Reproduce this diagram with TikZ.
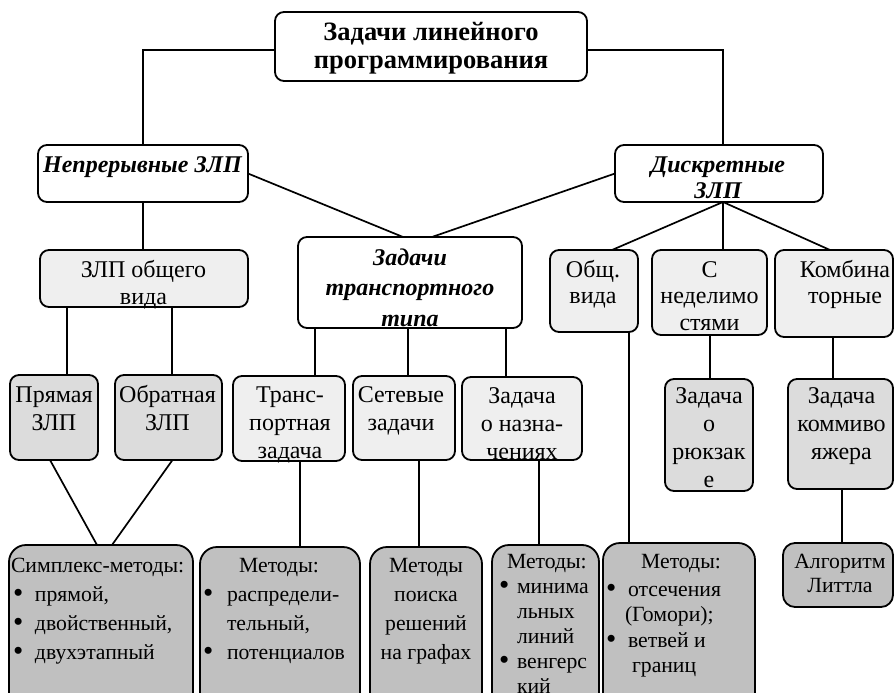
\documentclass[tikz,border=0pt]{standalone}
\usepackage{fontspec}
\setmainfont{Liberation Serif}
\definecolor{fa}{HTML}{EFEFEF}
\definecolor{fb}{HTML}{DCDCDC}
\definecolor{fc}{HTML}{C0C0C0}
\newcommand\TBc[1]{\begin{tabular}[t]{@{}c@{}}#1\end{tabular}}
\newcommand\TBl[1]{\begin{tabular}[t]{@{}l@{}}#1\end{tabular}}
\newcommand\bul[1]{\makebox[#1][l]{\raisebox{-1.2pt}{\scalebox{1.35}{•}}}}
\begin{document}
\begin{tikzpicture}[x=1pt,y=-1pt,
 box/.style={draw=black,line width=1.8pt,rounded corners=9pt,inner sep=0pt,outer sep=0pt,anchor=north west},
 bigbox/.style={box,rounded corners=17pt,fill=fc},
 lnk/.style={line width=1.7pt},
 lbl/.style={inner sep=0pt,outer sep=0pt,anchor=base},
 lbll/.style={inner sep=0pt,outer sep=0pt,anchor=base west},
 fm/.style={font=\fontsize{24}{28}\selectfont},
 fm265/.style={font=\fontsize{24}{26.5}\selectfont},
 fb29/.style={font=\fontsize{21.7}{29}\selectfont},
 fb25/.style={font=\fontsize{21.7}{25}\selectfont},
 fb24/.style={font=\fontsize{21.7}{24}\selectfont}]
\clip (0,0) rectangle (895,693);
\fill[white] (0,0) rectangle (895,693);
% boxes
\node[box,fill=white,minimum width=312pt,minimum height=69pt] (root) at (275,12) {};
\node[box,fill=white,minimum width=210pt,minimum height=57pt] (nepr) at (38,145) {};
\node[box,fill=white,minimum width=208pt,minimum height=57pt] (disc) at (615,145) {};
\node[box,fill=white,minimum width=224pt,minimum height=91pt] (transp) at (298,237) {};
\node[box,fill=fa,minimum width=208pt,minimum height=57pt] (zlpgen) at (40,250) {};
\node[box,fill=fa,minimum width=88pt,minimum height=82pt] (obsh) at (550,250) {};
\node[box,fill=fa,minimum width=115pt,minimum height=85pt] (nedel) at (652,250) {};
\node[box,fill=fa,minimum width=118pt,minimum height=87pt] (komb) at (775,250) {};
\node[box,fill=fb,minimum width=88pt,minimum height=85pt] (pryam) at (10,375) {};
\node[box,fill=fb,minimum width=107pt,minimum height=85pt] (obr) at (115,375) {};
\node[box,fill=fa,minimum width=112pt,minimum height=85pt] (trz) at (233,376) {};
\node[box,fill=fa,minimum width=102pt,minimum height=84pt] (set) at (353,376) {};
\node[box,fill=fa,minimum width=120pt,minimum height=83pt] (nazn) at (462,377) {};
\node[box,fill=fb,minimum width=88pt,minimum height=112pt] (ryuk) at (665,379) {};
\node[box,fill=fb,minimum width=105pt,minimum height=110pt] (komm) at (788,379) {};
\node[bigbox,minimum width=184pt,minimum height=175pt] (simp) at (9,545) {};
\node[bigbox,minimum width=160pt,minimum height=173pt] (mtr) at (200,547) {};
\node[bigbox,minimum width=112pt,minimum height=173pt] (graf) at (370,547) {};
\node[bigbox,minimum width=107pt,minimum height=175pt] (mnazn) at (492,545) {};
\node[bigbox,minimum width=152pt,minimum height=177pt] (motc) at (603,543) {};
\node[box,fill=fc,rounded corners=12pt,minimum width=110pt,minimum height=64pt] (litl) at (783,543) {};
% connectors
\draw[lnk] ([yshift=-3.5pt]root.west) -| (nepr.north);
\draw[lnk] ([yshift=-3.5pt]root.east) -| ([xshift=4pt]disc.north);
\draw[lnk] (nepr.east) -- ([xshift=-7pt]transp.north);
\draw[lnk] (disc.west) -- ([xshift=22pt]transp.north);
\draw[lnk] (nepr.south) -- (zlpgen.north -| nepr.south);
\draw[lnk] (zlpgen.south -| 67,0) -- (pryam.north -| 67,0);
\draw[lnk] (zlpgen.south -| 172,0) -- (obr.north -| 172,0);
\draw[lnk] ([xshift=-4pt]pryam.south) -- ([xshift=-4pt]simp.north);
\draw[lnk] ([xshift=4pt]obr.south) -- ([xshift=11pt]simp.north);
\draw[lnk] (transp.south -| 315,0) -- (trz.north -| 315,0);
\draw[lnk] (transp.south -| 408,0) -- (set.north -| 408,0);
\draw[lnk] (transp.south -| 506,0) -- (nazn.north -| 506,0);
\draw[lnk] ([xshift=4pt]disc.south) -- ([xshift=18pt]obsh.north);
\draw[lnk] ([xshift=4pt]disc.south) -- (nedel.north -| 723,0);
\draw[lnk] ([xshift=4pt]disc.south) -- ([xshift=-4pt]komb.north);
\draw[lnk] (obsh.south -| 629,0) -- (motc.north -| 629,0);
\draw[lnk] (nedel.south -| 710,0) -- (ryuk.north -| 710,0);
\draw[lnk] (komb.south -| 833,0) -- (komm.north -| 833,0);
\draw[lnk] (trz.south -| 300,0) -- (mtr.north -| 300,0);
\draw[lnk] (set.south -| 419,0) -- (graf.north -| 419,0);
\draw[lnk] (nazn.south -| 539,0) -- (mnazn.north -| 539,0);
\draw[lnk] (komm.south -| 842,0) -- (litl.north -| 842,0);
% texts
\node[lbl,font=\fontsize{26.5}{28}\selectfont\bfseries] (t0) at (431,41) {\TBc{Задачи линейного\\программирования}};
\node[lbl,font=\fontsize{24}{28}\selectfont\bfseries\itshape] (t1) at (142.5,172) {Непрерывные ЗЛП};
\node[lbl,font=\fontsize{24}{26.5}\selectfont\bfseries\itshape] (t2) at (718,172) {\TBc{Дискретные\\ЗЛП}};
\node[lbl,font=\fontsize{24}{30.5}\selectfont\bfseries\itshape] (t3) at (410,265) {\TBc{Задачи\\транспортного\\типа}};
\node[lbl,font=\fontsize{24}{27}\selectfont] (t4) at (143.5,277) {\TBc{ЗЛП общего\\вида}};
\node[lbl,fm265] (t5) at (593,277) {\TBc{Общ.\\вида}};
\node[lbl,fm265] (t6) at (709.5,277) {\TBc{С\\неделимо\\стями}};
\node[lbl,fm265] (t7) at (845,277) {\TBc{Комбина\\торные}};
\node[lbl,fm] (t8) at (54,402) {\TBc{Прямая\\ЗЛП}};
\node[lbl,fm] (t9) at (167.5,402) {\TBc{Обратная\\ЗЛП}};
\node[lbl,fm] (t10) at (290,402) {\TBc{Транс-\\портная\\задача}};
\node[lbl,fm] (t11) at (401,402) {\TBc{Сетевые\\задачи}};
\node[lbl,fm] (t12) at (522,403) {\TBc{Задача\\о назна-\\чениях}};
\node[lbl,fm] (t13) at (709,403) {\TBc{Задача\\о\\рюкзак\\е}};
\node[lbl,fm] (t14) at (841.5,403) {\TBc{Задача\\коммиво\\яжера}};
\node[lbll,fb29] (t15) at (11,572) {\TBl{Симплекс-методы:\\\hspace{2pt}\bul{22pt}прямой,\\\hspace{2pt}\bul{22pt}двойственный,\\\hspace{2pt}\bul{22pt}двухэтапный}};
\node[lbl,fb29] (t16) at (279,572) {Методы:};
\node[lbll,fb29] (t17) at (203,601) {\TBl{\bul{24pt}распредели-\\\hspace{24pt}тельный,\\\bul{24pt}потенциалов}};
\node[lbl,fb29] (t18) at (426,572) {\TBc{Методы\\поиска\\решений\\на графах}};
\node[lbll,fb25] (t19) at (499,568) {\TBl{\hspace{8pt}Методы:\\\bul{18pt}минима\\\hspace{18pt}льных\\\hspace{18pt}линий\\\bul{18pt}венгерс\\\hspace{18pt}кий}};
\node[lbl,fb25] (t20) at (681,568) {Методы:};
\node[lbll,font=\fontsize{21.7}{25.5}\selectfont] (t21) at (606,596) {\TBl{\bul{22pt}отсечения\\\hspace{19pt}(Гомори);\\\bul{22pt}ветвей и\\\hspace{26pt}границ}};
\node[lbl,fb24] (t22) at (840,568) {\TBc{Алгоритм\\Литтла}};
\end{tikzpicture}
\end{document}
